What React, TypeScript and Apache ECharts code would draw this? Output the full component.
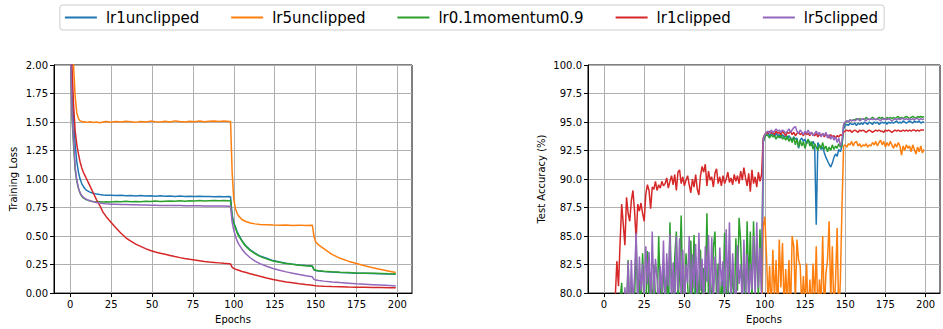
import React, { useEffect, useRef } from "react";
import * as echarts from "echarts";

const seriesNames = ["lr1unclipped", "lr5unclipped", "lr0.1momentum0.9", "lr1clipped", "lr5clipped"];
const colors = ["#1f77b4", "#ff7f0e", "#2ca02c", "#d62728", "#9467bd"];
const xTicks = [0, 25, 50, 75, 100, 125, 150, 175, 200];

// Training loss, sampled at these epochs
const lossEpochs = [
  0, 1, 2, 3, 4, 5, 6, 7, 8, 9, 10, 12, 14, 16, 18, 20, 22,
  25, 28, 31, 34, 37, 40, 43, 46, 49, 52, 55, 58, 61, 64, 67, 70, 73, 76, 79, 82, 85, 88, 91, 94, 97,
  98, 99, 100, 101, 102, 103, 105, 107, 110, 113, 116, 120, 124, 128, 132, 136, 140, 144, 148,
  149, 150, 152, 155, 160, 165, 170, 175, 180, 185, 190, 195, 199,
];
const lossLr1Unclipped = [
  2.3, 1.75, 1.55, 1.3, 1.15, 1.06, 1.0, 0.96, 0.935, 0.915, 0.9, 0.885, 0.875, 0.868, 0.864, 0.861, 0.859,
  0.857, 0.855, 0.858, 0.853, 0.856, 0.852, 0.855, 0.851, 0.854, 0.85, 0.853, 0.849, 0.852, 0.848, 0.851, 0.847, 0.85, 0.846, 0.849, 0.846, 0.848, 0.845, 0.847, 0.845, 0.846,
  0.845, 0.68, 0.62, 0.58, 0.54, 0.51, 0.46, 0.42, 0.38, 0.35, 0.325, 0.305, 0.285, 0.272, 0.262, 0.254, 0.247, 0.241, 0.237,
  0.205, 0.198, 0.194, 0.19, 0.185, 0.181, 0.178, 0.175, 0.173, 0.171, 0.169, 0.167, 0.166,
];
const lossLr5Unclipped = [
  2.6, 2.3, 2.0, 1.72, 1.58, 1.53, 1.51, 1.505, 1.5, 1.502, 1.497, 1.503, 1.495, 1.5, 1.493, 1.5, 1.505,
  1.498, 1.505, 1.5, 1.507, 1.502, 1.497, 1.505, 1.5, 1.508, 1.503, 1.5, 1.506, 1.501, 1.51, 1.504, 1.5, 1.507, 1.503, 1.509, 1.502, 1.506, 1.51, 1.504, 1.508, 1.505,
  1.505, 1.05, 0.82, 0.74, 0.7, 0.675, 0.645, 0.63, 0.615, 0.607, 0.602, 0.6, 0.597, 0.595, 0.598, 0.593, 0.596, 0.592, 0.595,
  0.5, 0.45, 0.42, 0.39, 0.34, 0.305, 0.28, 0.26, 0.24, 0.222, 0.207, 0.192, 0.18,
];
const lossLr01Momentum = [
  2.25, 1.55, 1.3, 1.08, 0.98, 0.92, 0.875, 0.85, 0.835, 0.825, 0.818, 0.808, 0.803, 0.8, 0.8, 0.798, 0.8,
  0.799, 0.803, 0.8, 0.805, 0.801, 0.804, 0.802, 0.806, 0.803, 0.807, 0.804, 0.806, 0.808, 0.805, 0.809, 0.806, 0.81, 0.807, 0.811, 0.808, 0.81, 0.812, 0.809, 0.812, 0.81,
  0.811, 0.66, 0.61, 0.57, 0.53, 0.5, 0.455, 0.415, 0.375, 0.345, 0.322, 0.3, 0.282, 0.27, 0.26, 0.252, 0.245, 0.24, 0.236,
  0.208, 0.2, 0.196, 0.192, 0.187, 0.183, 0.18, 0.177, 0.175, 0.173, 0.171, 0.169, 0.168,
];
const lossLr1Clipped = [
  2.35, 2.0, 1.65, 1.42, 1.3, 1.22, 1.15, 1.1, 1.06, 1.03, 1.0, 0.94, 0.88, 0.82, 0.77, 0.71, 0.67,
  0.62, 0.57, 0.525, 0.485, 0.455, 0.43, 0.41, 0.39, 0.373, 0.36, 0.35, 0.34, 0.33, 0.32, 0.311, 0.303, 0.296, 0.29, 0.284, 0.278, 0.273, 0.269, 0.265, 0.261, 0.258,
  0.256, 0.225, 0.215, 0.21, 0.205, 0.2, 0.19, 0.182, 0.17, 0.158, 0.147, 0.133, 0.12, 0.108, 0.098, 0.09, 0.082, 0.075, 0.069,
  0.066, 0.064, 0.062, 0.06, 0.057, 0.055, 0.053, 0.052, 0.051, 0.05, 0.049, 0.048, 0.048,
];
const lossLr5Clipped = [
  2.2, 1.6, 1.35, 1.1, 0.99, 0.92, 0.88, 0.855, 0.84, 0.83, 0.822, 0.81, 0.8, 0.795, 0.79, 0.786, 0.783,
  0.78, 0.779, 0.777, 0.776, 0.775, 0.774, 0.773, 0.772, 0.771, 0.77, 0.769, 0.769, 0.768, 0.767, 0.767, 0.766, 0.766, 0.765, 0.765, 0.764, 0.764, 0.763, 0.763, 0.763, 0.762,
  0.762, 0.62, 0.55, 0.5, 0.46, 0.43, 0.385, 0.35, 0.31, 0.28, 0.258, 0.235, 0.215, 0.2, 0.186, 0.175, 0.163, 0.152, 0.143,
  0.12, 0.114, 0.11, 0.105, 0.098, 0.092, 0.087, 0.082, 0.078, 0.074, 0.07, 0.066, 0.062,
];

// Test accuracy, one value per epoch 0..199
const accLr1Unclipped = [
  20, 35, 45, 55, 60, 64, 67, 70, 72, 73,
  74, 72, 75, 71, 76, 73, 77, 74, 75, 72,
  76, 78, 74, 77, 73, 75, 78, 74, 76, 72,
  77, 75, 79, 73, 76, 78, 74, 77, 75, 78,
  81.8, 75, 78, 74, 77, 79, 80.4, 76, 78, 73,
  77, 79.5, 74, 78, 76, 79, 75, 83.2, 77, 79,
  74, 78, 76, 79.5, 75, 77, 73, 78, 76, 79,
  74, 77, 79, 75, 81.3, 76, 78, 74, 79, 80.6,
  75, 77, 79, 74, 78, 76, 80.9, 75, 78, 77,
  74, 79, 76, 78, 75, 79, 77, 78, 76, 93.2,
  93.7, 93.9, 94.0, 93.8, 94.0, 93.9, 93.7, 94.0, 93.8, 93.9,
  93.6, 93.9, 93.7, 93.8, 93.5, 93.8, 93.6, 93.4, 93.7, 93.5,
  93.6, 92.7, 93.4, 93.6, 93.3, 93.5, 93.1, 93.4, 93.2, 92.9,
  93.3, 93.0, 86.0, 93.2, 92.9, 92.6, 92.8, 92.3, 91.9, 91.6,
  91.3, 91.05, 91.4, 91.9, 92.2, 92.0, 92.6, 92.4, 92.9, 94.4,
  94.7, 94.8, 94.7, 94.9, 94.8, 94.8, 94.9, 94.7, 94.9, 94.8,
  94.9, 94.8, 95.0, 94.9, 94.8, 95.0, 94.9, 94.8, 95.0, 94.9,
  95.0, 94.8, 94.9, 95.0, 94.9, 95.0, 94.8, 95.0, 94.9, 95.0,
  94.9, 95.0, 95.1, 94.9, 95.0, 94.9, 95.1, 95.0, 94.9, 95.0,
  95.1, 95.0, 94.9, 95.1, 95.0, 95.0, 95.1, 94.9, 95.0, 95.0,
];
const accLr5Unclipped = [
  10, 22, 35, 41, 48, 52, 45, 58, 55, 61,
  57, 63, 60, 66, 59, 64, 68, 62, 70, 65,
  67, 72, 63, 69, 74, 66, 71, 68, 75, 64,
  70, 73, 67, 76, 69, 72, 65, 74, 71, 68,
  77, 70, 66, 73, 75, 69, 72, 78, 67, 74,
  71, 68, 76, 70, 73, 66, 75, 72, 69, 77,
  70, 74, 67, 72, 76, 69, 73, 71, 78, 68,
  74, 70, 75, 72, 67, 76, 71, 73, 69, 77,
  72, 75, 68, 74, 70, 77, 73, 69, 76, 71,
  74, 72, 78, 70, 75, 73, 77, 71, 76, 85.8,
  86.7, 83.5, 79.2, 82.4, 78.0, 83.8, 79.5, 82.9, 77.8, 84.7,
  80.5, 84.4, 78.6, 82.1, 79.0, 82.9, 78.2, 85.0, 84.1, 79.4,
  84.7, 82.9, 82.4, 78.8, 81.5, 79.0, 82.6, 77.5, 81.2, 78.4,
  82.6, 79.2, 84.1, 77.9, 81.2, 79.0, 85.0, 78.3, 81.7, 82.9,
  86.3, 79.5, 84.1, 78.0, 81.2, 85.7, 77.6, 81.2, 87.6, 92.9,
  93.0, 92.8, 93.1, 93.0, 93.3, 92.9, 93.2, 93.3, 92.9, 93.1,
  92.8, 93.0, 92.9, 93.1, 92.8, 93.0, 92.9, 93.2, 93.0, 93.3,
  92.9, 93.2, 93.4, 93.0, 93.3, 92.8, 93.2, 92.9, 93.3, 93.0,
  92.7, 93.1, 92.8, 93.2, 92.9, 92.1, 92.9, 92.5, 93.0, 92.7,
  92.9, 92.4, 93.0, 92.6, 92.2, 92.8, 92.4, 92.9, 92.3, 92.6,
];
const accLr01Momentum = [
  25, 40, 52, 60, 65, 69, 72, 74, 76, 78,
  79.5, 80.9, 77.5, 79.8, 78.2, 82.9, 78.0, 80.6, 77.6, 79.3,
  84.7, 79.2, 81.3, 78.4, 83.5, 80.3, 78.5, 83.7, 79.0, 81.8,
  78.3, 82.5, 79.6, 77.8, 85.0, 80.1, 78.5, 82.8, 79.4, 81.6,
  78.1, 86.2, 80.4, 78.0, 83.2, 85.4, 79.0, 81.7, 86.8, 79.5,
  78.2, 83.5, 80.8, 78.0, 84.6, 79.6, 85.1, 78.4, 81.9, 79.3,
  83.8, 78.6, 82.2, 80.1, 87.0, 79.4, 81.5, 78.2, 84.0, 85.4,
  79.5, 82.6, 78.4, 81.0, 79.0, 85.3, 80.0, 78.3, 83.6, 79.6,
  82.0, 78.5, 84.8, 80.2, 86.6, 84.5, 79.8, 82.7, 78.6, 86.3,
  80.5, 85.4, 79.2, 86.3, 80.8, 84.6, 79.5, 85.6, 80.2, 93.3,
  93.7, 93.9, 93.8, 93.6, 93.9, 93.7, 93.8, 93.5, 93.8, 93.6,
  93.9, 93.5, 93.7, 93.4, 93.8, 93.3, 93.6, 93.2, 93.7, 93.0,
  93.5, 92.8, 93.4, 92.9, 93.3, 92.7, 93.2, 93.5, 92.9, 93.3,
  92.6, 93.1, 92.8, 92.5, 93.0, 92.7, 93.2, 92.6, 92.9, 92.4,
  92.8, 92.5, 93.0, 92.6, 92.9, 92.7, 93.1, 92.8, 93.0, 94.7,
  94.9, 95.1, 95.0, 95.2, 95.1, 95.2, 95.2, 95.3, 95.2, 95.3,
  95.2, 95.3, 95.2, 95.4, 95.3, 95.2, 95.3, 95.4, 95.3, 95.2,
  95.3, 95.4, 95.3, 95.4, 95.3, 95.2, 95.4, 95.3, 95.4, 95.3,
  95.4, 95.3, 95.4, 95.5, 95.3, 95.4, 95.3, 95.4, 95.5, 95.4,
  95.3, 95.4, 95.5, 95.4, 95.3, 95.5, 95.4, 95.5, 95.4, 95.5,
];
const accLr1Clipped = [
  40, 55, 63, 69, 73, 76, 78.5, 79.6, 82.8, 80.6,
  84.4, 87.8, 86.0, 84.2, 88.4, 87.0, 86.3, 88.1, 89.0, 87.2,
  84.7, 87.8, 87.2, 87.9, 87.0, 86.3, 88.7, 89.5, 89.0, 87.4,
  89.3, 89.1, 89.8, 89.0, 89.5, 89.2, 89.8, 89.4, 89.6, 90.1,
  89.2, 89.8, 90.3, 89.5, 90.4, 89.0, 90.6, 90.8, 89.6, 90.2,
  89.4, 89.9, 90.3, 89.5, 88.8, 90.0, 89.3, 90.4, 89.1, 88.6,
  90.3, 91.1, 90.6, 91.3, 89.4, 90.7, 89.9, 90.2, 89.3, 90.5,
  90.9, 89.6, 90.2, 89.4, 90.3, 89.6, 90.0, 90.6, 89.7, 90.1,
  89.5, 90.4, 89.8, 90.3, 89.6, 90.7, 89.9, 91.0, 90.1, 89.4,
  90.5, 88.9, 90.8, 89.6, 90.2, 89.3, 90.6, 89.8, 90.4, 93.6,
  93.9, 94.1, 94.0, 94.2, 94.0, 94.1, 93.9, 94.2, 94.0, 94.1,
  93.9, 94.2, 94.0, 93.8, 94.1, 94.0, 94.2, 93.9, 94.1, 93.8,
  94.0, 94.1, 93.9, 94.0, 93.8, 94.1, 93.9, 94.0, 93.8, 94.1,
  93.9, 93.8, 94.0, 93.7, 93.9, 93.8, 94.0, 93.7, 93.9, 93.8,
  93.6, 93.9, 93.7, 93.8, 93.6, 93.8, 93.7, 93.9, 93.8, 94.1,
  94.2, 94.3, 94.2, 94.3, 94.1, 94.2, 94.3, 94.2, 94.1, 94.3,
  94.2, 94.3, 94.2, 94.1, 94.2, 94.3, 94.2, 94.1, 94.2, 94.3,
  94.2, 94.3, 94.2, 94.2, 94.1, 94.3, 94.2, 94.3, 94.2, 94.1,
  94.2, 94.3, 94.2, 94.3, 94.2, 94.2, 94.3, 94.2, 94.3, 94.2,
  94.3, 94.2, 94.3, 94.3, 94.2, 94.3, 94.2, 94.3, 94.3, 94.3,
];
const accLr5Clipped = [
  30, 45, 55, 62, 66, 70, 72, 74, 76, 75,
  77, 78.5, 76, 80.5, 78, 82.8, 77.5, 82.9, 79, 81.5,
  85.3, 78.5, 83.2, 80.2, 82.6, 79.4, 84.1, 80.8, 83.6, 78.8,
  85.4, 79.5, 83.0, 81.2, 78.6, 82.4, 80.0, 84.6, 78.2, 83.5,
  80.6, 85.2, 79.0, 82.7, 78.4, 85.0, 80.2, 84.8, 79.3, 83.8,
  78.6, 82.5, 80.9, 85.0, 78.7, 83.4, 80.4, 84.3, 79.1, 85.3,
  80.2, 83.0, 78.5, 84.1, 81.0, 85.1, 79.2, 84.9, 78.8, 83.2,
  81.5, 79.0, 84.0, 80.6, 82.8, 78.6, 85.6, 80.1, 86.2, 79.3,
  83.5, 80.4, 78.9, 84.2, 80.8, 82.5, 78.6, 84.7, 80.0, 83.4,
  79.0, 82.6, 80.3, 85.0, 79.4, 86.2, 80.5, 84.0, 79.6, 93.5,
  93.9, 94.1, 94.2, 94.0, 94.3, 94.1, 94.2, 94.4, 94.2, 94.3,
  94.1, 94.3, 94.2, 94.0, 94.2, 94.4, 94.1, 94.3, 94.5, 94.6,
  94.2, 94.0, 94.3, 94.1, 93.9, 94.2, 94.0, 94.3, 93.9, 94.1,
  93.8, 94.0, 94.2, 93.9, 94.1, 93.7, 94.0, 93.8, 94.1, 93.6,
  93.9, 93.5, 93.8, 93.4, 93.7, 93.2, 93.6, 92.9, 93.3, 94.8,
  95.0, 95.1, 95.0, 95.2, 95.1, 95.2, 95.1, 95.2, 95.3, 95.1,
  95.2, 95.3, 95.2, 95.1, 95.3, 95.2, 95.3, 95.2, 95.3, 95.2,
  95.3, 95.2, 95.1, 95.3, 95.2, 95.3, 95.2, 95.3, 95.2, 95.1,
  95.2, 95.3, 95.2, 95.3, 95.2, 95.3, 95.3, 95.2, 95.3, 95.2,
  95.3, 95.2, 95.3, 95.2, 95.3, 95.3, 95.2, 95.3, 95.2, 95.3,
];

const lossSeries = [lossLr1Unclipped, lossLr5Unclipped, lossLr01Momentum, lossLr1Clipped, lossLr5Clipped];
const accSeries = [accLr1Unclipped, accLr5Unclipped, accLr01Momentum, accLr1Clipped, accLr5Clipped];

const FONT = "DejaVu Sans";

function makeXAxis(gridIndex: number) {
  return {
    gridIndex,
    type: "value",
    min: -9.95,
    max: 208.95,
    name: "Epochs",
    nameLocation: "middle",
    nameGap: 20,
    nameTextStyle: { fontFamily: FONT, fontSize: 10, color: "#000" },
    axisLine: { show: true, onZero: false, lineStyle: { color: "#000", width: 1 } },
    axisTick: { show: true, inside: false, length: 4, customValues: xTicks, lineStyle: { color: "#000", width: 1 } },
    axisLabel: { customValues: xTicks, fontFamily: FONT, fontSize: 10, color: "#000", margin: 6 },
    splitLine: { show: true, lineStyle: { color: "#b0b0b0", width: 1 } },
  };
}

export default function App() {
  const ref = useRef<HTMLDivElement>(null);
  useEffect(() => {
    if (!ref.current) return;
    const chart = echarts.init(ref.current, null, { renderer: "svg" });
    const series: any[] = [];
    seriesNames.forEach((name, k) => {
      series.push({
        name,
        type: "line",
        xAxisIndex: 0,
        yAxisIndex: 0,
        showSymbol: false,
        symbol: "none",
        clip: true,
        color: colors[k],
        lineStyle: { width: 1.5, color: colors[k] },
        data: lossEpochs.map((e, i) => [e, lossSeries[k][i]]),
      });
    });
    seriesNames.forEach((name, k) => {
      series.push({
        name,
        type: "line",
        xAxisIndex: 1,
        yAxisIndex: 1,
        showSymbol: false,
        symbol: "none",
        clip: true,
        color: colors[k],
        lineStyle: { width: 1.5, color: colors[k] },
        data: accSeries[k].map((v, i) => [i, v]),
      });
    });
    chart.setOption({
      animation: false,
      backgroundColor: "#fff",
      textStyle: { fontFamily: FONT },
      legend: {
        top: 5,
        left: "center",
        data: seriesNames,
        icon: "rect",
        itemWidth: 32,
        itemHeight: 2,
        itemGap: 32,
        padding: [5, 6, 5, 5],
        borderColor: "#cccccc",
        borderWidth: 1,
        borderRadius: 3,
        textStyle: { fontFamily: FONT, fontSize: 15, color: "#000", padding: [0, 0, 0, 4] },
      },
      grid: [
        { left: 54, top: 65, width: 358, height: 232, show: true, borderColor: "#000", borderWidth: 1, backgroundColor: "transparent" },
        { left: 588, top: 65, width: 352, height: 231, show: true, borderColor: "#000", borderWidth: 1, backgroundColor: "transparent" },
      ],
      xAxis: [makeXAxis(0), makeXAxis(1)],
      yAxis: [
        {
          gridIndex: 0,
          type: "value",
          min: 0,
          max: 2,
          interval: 0.25,
          name: "Training Loss",
          nameLocation: "middle",
          nameGap: 36,
          nameTextStyle: { fontFamily: FONT, fontSize: 10, color: "#000" },
          axisLine: { show: true, onZero: false, lineStyle: { color: "#000", width: 1 } },
          axisTick: { show: true, inside: false, length: 4, lineStyle: { color: "#000", width: 1 } },
          axisLabel: { fontFamily: FONT, fontSize: 10, color: "#000", margin: 6, formatter: (v: number) => v.toFixed(2) },
          splitLine: { show: true, lineStyle: { color: "#b0b0b0", width: 1 } },
        },
        {
          gridIndex: 1,
          type: "value",
          min: 80,
          max: 100,
          interval: 2.5,
          name: "Test Accuracy (%)",
          nameLocation: "middle",
          nameGap: 42,
          nameTextStyle: { fontFamily: FONT, fontSize: 10, color: "#000" },
          axisLine: { show: true, onZero: false, lineStyle: { color: "#000", width: 1 } },
          axisTick: { show: true, inside: false, length: 4, lineStyle: { color: "#000", width: 1 } },
          axisLabel: { fontFamily: FONT, fontSize: 10, color: "#000", margin: 6, formatter: (v: number) => v.toFixed(1) },
          splitLine: { show: true, lineStyle: { color: "#b0b0b0", width: 1 } },
        },
      ],
      series,
    });
    return () => chart.dispose();
  }, []);
  return (
    <div
      ref={ref}
      style={{ position: "fixed", left: 0, top: 0, width: 943, height: 329, background: "#fff" }}
    />
  );
}
